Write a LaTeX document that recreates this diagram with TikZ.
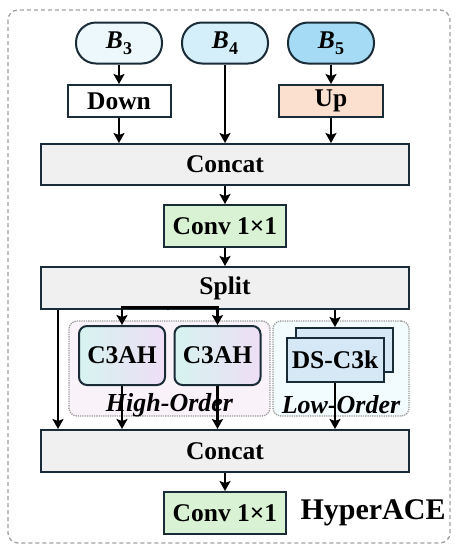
\documentclass[tikz,border=0pt]{standalone}
\usepackage{fontspec}
\setmainfont{Liberation Serif}
\definecolor{edgeDark}{RGB}{26, 44, 56}
\definecolor{catGray}{RGB}{240, 240, 241}
\definecolor{convGreen}{RGB}{218, 242, 212}
\definecolor{upPeach}{RGB}{251, 224, 208}
\definecolor{bThree}{RGB}{237, 248, 253}
\definecolor{bFour}{RGB}{212, 238, 250}
\definecolor{bFive}{RGB}{166, 219, 245}
\definecolor{dsBlue}{RGB}{214, 232, 245}
\definecolor{hoLeft}{RGB}{214, 243, 241}
\definecolor{hoRight}{RGB}{238, 222, 245}
\usepackage{tikz}
\usetikzlibrary{positioning, calc, arrows.meta, backgrounds}

\begin{document}
\begin{tikzpicture}[
    x=1pt, y=-1pt,
    node distance=18pt and 18pt,
    txt/.style={font=\bfseries\fontsize{25.5}{28}\selectfont},
    pill/.style={rectangle, rounded corners=20pt, draw=edgeDark, line width=2pt,
                 minimum width=86pt, minimum height=41pt, inner sep=0pt, txt},
    blk/.style={rectangle, draw=edgeDark, line width=2pt, minimum height=32pt,
                inner sep=0pt, txt},
    wide/.style={blk, fill=catGray, minimum width=368pt, minimum height=41pt},
    conv/.style={blk, fill=convGreen, minimum width=122pt, minimum height=42pt},
    hoa/.style={blk, rounded corners=8pt, minimum width=86pt, minimum height=59pt,
                left color=hoLeft, right color=hoRight},
    dsk/.style={blk, fill=dsBlue, minimum width=97pt, minimum height=44pt},
    region/.style={rectangle, rounded corners=8pt, draw=gray!80, densely dotted,
                   line width=1.3pt, minimum height=95pt, inner sep=0pt},
    lbl/.style={font=\bfseries\itshape\fontsize{26}{28}\selectfont},
    arrow/.style={-{Stealth[length=10pt, width=11pt, inset=2pt]}, line width=2.5pt},
    line/.style={line width=2.5pt},
  ]
    \useasboundingbox (0,0) rectangle (455,547);
    \draw[gray!75, line width=1.3pt, dash pattern=on 4pt off 3pt, rounded corners=10pt]
      (8,10) rectangle (450,543);

    % inputs
    \node[pill, fill=bFour] (B4) at (225,43) {\itshape B\raisebox{-6pt}{\upshape\fontsize{18}{18}\selectfont 4}};
    \node[pill, fill=bThree, left=18pt of B4] (B3) {\itshape B\raisebox{-6pt}{\upshape\fontsize{18}{18}\selectfont 3}};
    \node[pill, fill=bFive, right=18pt of B4] (B5) {\itshape B\raisebox{-6pt}{\upshape\fontsize{18}{18}\selectfont 5}};

    \node[blk, fill=white, minimum width=103pt, below=19.5pt of B3] (Down) {Down};
    \node[blk, fill=upPeach, minimum width=104pt, below=19.5pt of B5] (Up) {Up};

    % main column
    \node[wide, below=78.5pt of B4] (CatA) {Concat};
    \node[conv, below=of CatA] (ConvA) {Conv 1\texttimes1};
    \node[wide, below=of ConvA, minimum height=42pt] (Split) {Split};

    % high / low order blocks
    \node[region, fill=violet!5, minimum width=201pt] (HighR) at (169.5,368.5) {};
    \node[region, fill=cyan!5, minimum width=136pt] (LowR) at (341,368.5) {};
    \node[hoa] (HA1) at (122,355.5) {C3AH};
    \node[hoa] (HA2) at (217.5,355.5) {C3AH};
    \node[dsk] (DSb) at (344,350) {};
    \node[dsk] (DSf) at (335,360) {DS-C3k};
    \node[lbl] (HighL) at (HighR.center |- 0,405) {High-Order};
    \node[lbl] (LowL) at (LowR.center |- 0,405) {Low-Order};

    \node[wide, minimum height=42pt] (CatB) at (225,451) {Concat};
    \node[conv, below=of CatB] (ConvB) {Conv 1\texttimes1};
    \node[font=\bfseries\fontsize{30}{32}\selectfont, right=10pt of ConvB] (Title) {HyperACE};

    \coordinate (Fork) at (168,307.5);

    \draw[arrow] (B3) -- (Down);
    \draw[arrow] (B5) -- (Up);
    \draw[arrow] (Down) -- (Down |- CatA.north);
    \draw[arrow] (B4) -- (CatA);
    \draw[arrow] (Up) -- (Up |- CatA.north);
    \draw[arrow] (CatA) -- (ConvA);
    \draw[arrow] (ConvA) -- (Split);
    \draw[arrow] ([xshift=18pt]Split.south west) -- ([xshift=18pt]CatB.north west);
    \draw[line] (Split.south -| Fork) -- (Fork);
    \draw[arrow] (Fork) -| (HA1.north);
    \draw[arrow] (Fork) -| (HA2.north);
    \draw[arrow] (Split.south -| DSf) -- (DSb.north -| DSf);
    \draw[arrow] (HA1) -- (HA1 |- CatB.north);
    \draw[arrow] (HA2) -- (HA2 |- CatB.north);
    \draw[arrow] (DSf) -- (DSf |- CatB.north);
    \draw[arrow] (CatB) -- (ConvB);
  \end{tikzpicture}
\end{document}
